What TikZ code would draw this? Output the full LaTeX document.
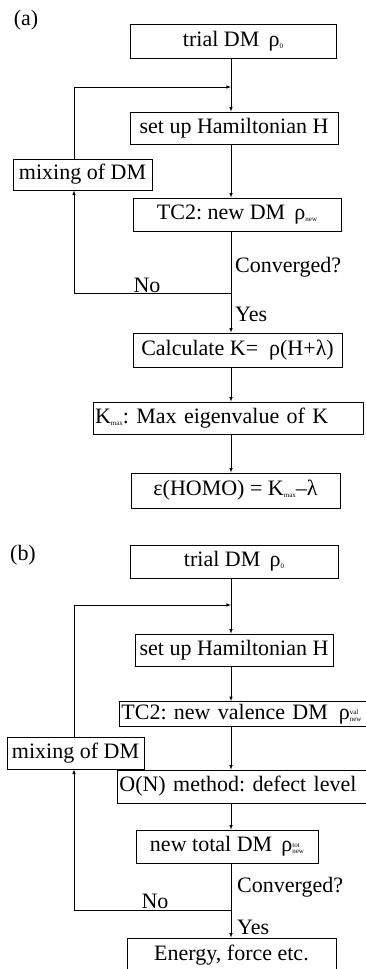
\documentclass[tikz,border=0pt]{standalone}
\usepackage{fontspec}
\setmainfont{Liberation Serif}
\usetikzlibrary{arrows}

\newcommand{\lowtxt}[1]{\raisebox{-2pt}{\fontsize{7}{7}\selectfont #1}}
\newcommand{\twotxt}[2]{\raisebox{-2pt}{\fontsize{7}{7}\selectfont\shortstack[l]{#1\\#2}}}

\tikzset{
  box/.style={draw, line width=.8pt, inner sep=2pt, minimum height=32pt, font=\fontsize{22}{24}\selectfont\frenchspacing},
  lbl/.style={inner sep=0pt, font=\fontsize{22}{24}\selectfont},
  flow/.style={->, >=latex, line width=.6pt},
  wire/.style={line width=.6pt}
}

\begin{document}
\begin{tikzpicture}[x=1pt,y=-1pt]
\useasboundingbox (0,0) rectangle (365,969);

% (a)
\node[lbl] (labA) at (26,20) {(a)};
\node[box, minimum width=206pt, minimum height=34pt] (trialA) at (233,41) {trial DM\, ρ\lowtxt{0}};
\node[box, minimum width=208pt] (setupA) at (234,128) {set up Hamiltonian H};
\node[box, minimum width=139pt, minimum height=31pt] (mixA) at (82.5,174.5) {mixing of DM};
\node[box, minimum width=208pt, minimum height=33pt] (tcA) at (237,214.5) {TC2: new DM\, ρ\lowtxt{new}};
\node[box, minimum width=209pt, minimum height=34pt] (calcA) at (237.5,350) {Calculate K=\ \ ρ(H+λ)};
\node[box, text width=266pt, align=left] (kmaxA) at (228,418) {K\lowtxt{max}: Max eigenvalue of K};
\node[box, minimum width=209pt, minimum height=35pt] (homoA) at (235.5,490.5) {ε(HOMO) = K\lowtxt{max}–λ};

\coordinate (topA) at (231,87);
\coordinate (botA) at (231,293);
\coordinate (loopTA) at (74,87);
\coordinate (loopBA) at (74,293);

\node[lbl, anchor=west] (convA) at (235,267) {Converged?};
\node[lbl] (noA) at (147,285) {No};
\node[lbl, anchor=west] (yesA) at (235,314) {Yes};

\draw[wire] (trialA.south -| topA) -- (topA);
\draw[flow] (topA) -- (setupA.north -| topA);
\draw[flow] (setupA.south -| topA) -- (tcA.north -| topA);
\draw[wire] (tcA.south -| topA) -- (botA);
\draw[flow] (botA) -- (calcA.north -| topA);
\draw[flow] (calcA.south -| topA) -- (kmaxA.north -| topA);
\draw[flow] (kmaxA.south -| topA) -- (homoA.north -| topA);
% back to mixing
\draw[flow] (botA) -- (loopBA) -- (mixA.south -| loopBA);
\draw[flow] (mixA.north -| loopBA) -- (loopTA) -- (topA);

% (b)
\node[lbl] (labB) at (23,555) {(b)};
\node[box, minimum width=208pt, minimum height=33pt] (trialB) at (234,561.5) {trial DM\, ρ\lowtxt{0}};
\node[box, minimum width=198pt] (setupB) at (234,650) {set up Hamiltonian H};
\node[box, anchor=west, text width=280pt, align=left, minimum height=25pt] (tcB) at (119,714) {TC2: new valence DM\, ρ\twotxt{val}{new}};
\node[box, minimum width=137pt] (mixB) at (75.5,753) {mixing of DM};
\node[box, anchor=west, text width=280pt, align=left, minimum height=33pt] (onB) at (117,786.5) {O(N) method: defect level};
\node[box, minimum width=182pt, minimum height=33pt] (totB) at (227,846.5) {new total DM\, ρ\twotxt{tot}{new}};
\node[box, minimum width=209pt, minimum height=34pt] (enB) at (231.5,955) {Energy, force etc.};

\coordinate (topB) at (231,605);
\coordinate (botB) at (231,910);
\coordinate (loopTB) at (74,605);
\coordinate (loopBB) at (74,910);

\node[lbl, anchor=west] (convB) at (237,887) {Converged?};
\node[lbl] (noB) at (155,901) {No};
\node[lbl, anchor=west] (yesB) at (237,927) {Yes};

\draw[wire] (trialB.south -| topB) -- (topB);
\draw[flow] (topB) -- (setupB.north -| topB);
\draw[flow] (setupB.south -| topB) -- (tcB.north -| topB);
\draw[flow] (tcB.south -| topB) -- (onB.north -| topB);
\draw[flow] (onB.south -| topB) -- (totB.north -| topB);
\draw[wire] (totB.south -| topB) -- (botB);
\draw[flow] (botB) -- (enB.north -| topB);
% back to mixing
\draw[flow] (botB) -- (loopBB) -- (mixB.south -| loopBB);
\draw[flow] (mixB.north -| loopBB) -- (loopTB) -- (topB);
\end{tikzpicture}
\end{document}
